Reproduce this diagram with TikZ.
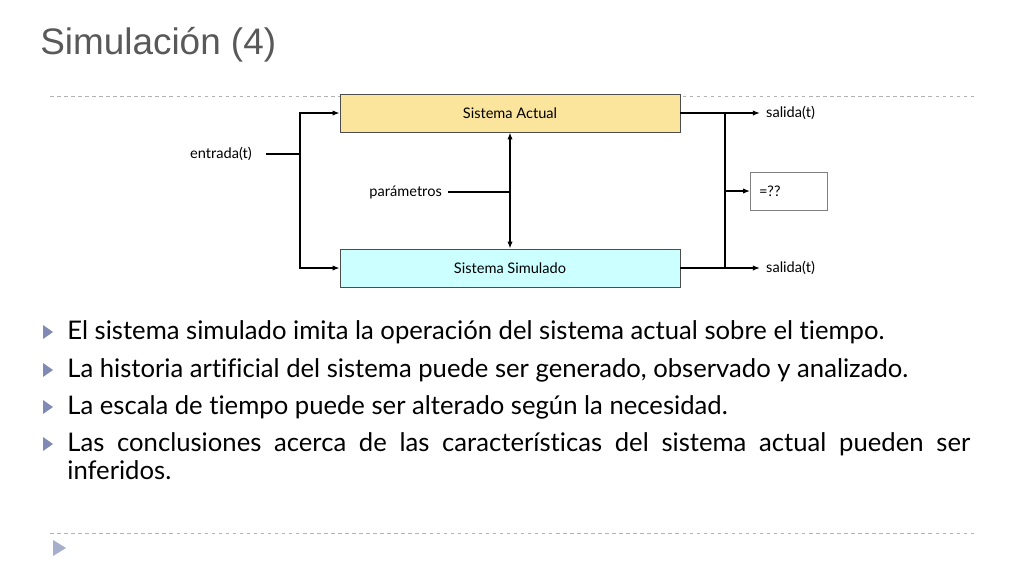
\documentclass[tikz,border=0pt]{standalone}
\usepackage{fontspec}
\setmainfont{Lato}[Ligatures=NoCommon]
\newfontfamily\titlefont{Liberation Sans}
\usetikzlibrary{arrows.meta,positioning}

\definecolor{amarillo}{HTML}{FBE49C}
\definecolor{celeste}{HTML}{CCFFFF}
\definecolor{vineta}{HTML}{7F8BB5}

\tikzset{
	bloque/.style={draw=black!70, minimum width=6.8cm, minimum height=0.76cm, font=\fontsize{8.3}{10}\selectfont},
	etiqueta/.style={font=\fontsize{8.3}{10}\selectfont},
	flecha/.style={-{Latex[length=4pt,width=3pt]}, thick},
	punteada/.style={gray!60, dash pattern=on 2pt off 2pt, thin},
	texto/.style={anchor=west, font=\fontsize{14.6}{16}\selectfont, inner sep=0pt}
}

\begin{document}
\begin{tikzpicture}[x=0.02cm,y=-0.02cm]
	\useasboundingbox (0,0) rectangle (1024,576);

	\node[anchor=west, font=\titlefont\fontsize{21}{24}\selectfont, text=black!65, inner sep=0pt] (titulo) at (40,45) {Simulación (4)};
	\draw[punteada] (50,96) -- (975,96);
	\draw[punteada] (50,533) -- (975,533);
	\fill[vineta!70] (53,540) -- (66,548) -- (53,556) -- cycle;

	% bloques
	\node[bloque, fill=amarillo] (actual) at (510,113) {Sistema Actual};
	\node[bloque, fill=celeste] (simulado) at (510,268) {Sistema Simulado};
	\node[draw=black!50, minimum width=1.54cm, minimum height=0.76cm, etiqueta, text width=1.2cm] (igual) at (789,191) {=??};

	\node[etiqueta, anchor=east] (entrada) at (258,154) {entrada(t)};
	\node[etiqueta, anchor=east] (param) at (448,192) {parámetros};
	\node[etiqueta, anchor=west] (salidaA) at (760,113) {salida(t)};
	\node[etiqueta, anchor=west] (salidaS) at (760,268) {salida(t)};

	\coordinate (ent) at (300,154);
	\coordinate (sal) at (725,191);

	\draw[thick] (entrada.east) ++(8,0) -- (ent);
	\draw[flecha] (ent) |- (actual.west);
	\draw[flecha] (ent) |- (simulado.west);

	\draw[{Latex[length=4pt,width=3pt]}-{Latex[length=4pt,width=3pt]}, thick] (actual.south) -- (simulado.north);
	\draw[thick] (param.east) -- (simulado.north |- param.east);

	\draw[flecha] (actual.east) -- (salidaA.west);
	\draw[flecha] (simulado.east) -- (salidaS.west);
	\draw[thick] (sal |- actual.east) -- (sal |- simulado.east);
	\draw[flecha] (sal) -- (igual.west);

	% viñetas
	\foreach \y/\t in {332/El sistema simulado imita la operación del sistema actual sobre el tiempo.,
		370/La historia artificial del sistema puede ser generado{,} observado y analizado.,
		407/La escala de tiempo puede ser alterado según la necesidad.,
		444/{}} {
		\fill[vineta] (43,\y-7) -- (53,\y) -- (43,\y+7) -- cycle;
		\node[texto] at (67,\y) {\t};
	}
	\node[texto, anchor=north west, text width=18.06cm, align=justify] (ultima) at (67,432)
		{Las conclusiones acerca de las características del sistema actual pueden ser\linebreak inferidos.};
\end{tikzpicture}
\end{document}
